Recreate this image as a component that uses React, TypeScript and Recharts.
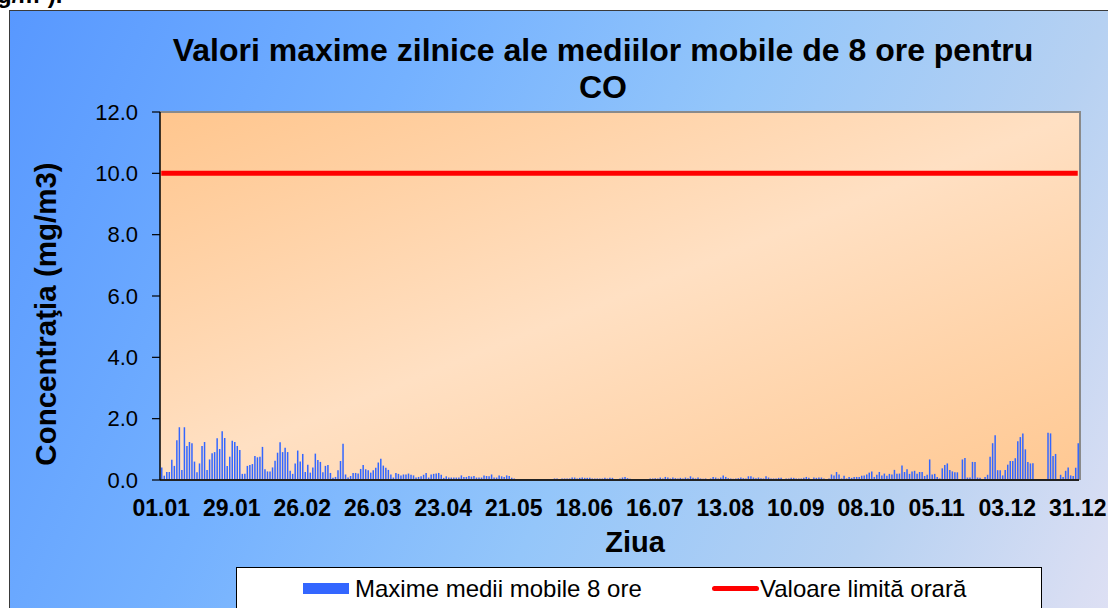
import React from 'react';
import { ComposedChart, Bar, Line, XAxis, YAxis } from 'recharts';

const FONT = "Arial, 'Liberation Sans', Helvetica, sans-serif";

// categories: days of a non-leap year, "dd.mm"
const monthLengths = [31, 28, 31, 30, 31, 30, 31, 31, 30, 31, 30, 31];
const pad = (n: number) => (n < 10 ? '0' + n : '' + n);
const dayLabels: string[] = [];
monthLengths.forEach((len, m) => {
  for (let d = 1; d <= len; d++) dayLabels.push(`${pad(d)}.${pad(m + 1)}`);
});

const tickLabels = ['01.01', '29.01', '26.02', '26.03', '23.04', '21.05', '18.06', '16.07', '13.08', '10.09', '08.10', '05.11', '03.12', '31.12'];
const yTicks = [0, 2, 4, 6, 8, 10, 12];

// Maxime medii mobile 8 ore (mg/m3), one value per day
const maxMovingAvg8h: (number | null)[] = [
  0.41, 0.14, 0.26, 0.26, 0.66, 0.46, 1.30, 1.72, 0.33, 1.72,
  1.11, 1.24, 1.20, 0.60, 0.25, 0.54, 1.11, 1.24, 0.33, 0.67,
  0.87, 0.91, 1.36, 1.01, 1.59, 1.37, 0.46, 0.76, 1.28, 1.24,
  1.11, 0.98, 0.20, 0.20, 0.46, 0.49, 0.52, 0.78, 0.74, 0.76,
  1.08, 0.35, 0.28, 0.28, 0.41, 0.63, 0.89, 1.23, 0.91, 1.05,
  0.91, 0.30, 0.20, 0.54, 0.96, 0.60, 0.85, 0.26, 0.50, 0.24,
  0.41, 0.86, 0.65, 0.59, 0.25, 0.46, 0.49, 0.23, 0.07, 0.10,
  0.32, 0.62, 1.18, 0.18, 0.08, 0.13, 0.23, 0.23, 0.21, 0.36,
  0.49, 0.35, 0.32, 0.24, 0.32, 0.40, 0.57, 0.69, 0.47, 0.40,
  0.33, 0.18, 0.08, 0.23, 0.20, 0.15, 0.18, 0.18, 0.21, 0.17,
  0.15, 0.08, 0.10, 0.12, 0.17, 0.23, 0.08, 0.18, 0.20, 0.21,
  0.23, 0.17, 0.07, 0.12, 0.08, 0.08, 0.08, 0.08, 0.08, 0.15,
  0.10, 0.10, 0.13, 0.11, 0.13, 0.08, 0.08, 0.08, 0.15, 0.13,
  0.12, 0.18, 0.08, 0.08, 0.15, 0.12, 0.10, 0.15, 0.13, 0.07,
  0.05, null, null, null, null, null, null, null, null, null,
  null, null, null, null, null, null, 0.05, 0.05, 0.03, 0.05,
  0.05, 0.05, 0.05, 0.08, 0.08, 0.05, 0.07, 0.08, 0.07, 0.07,
  0.07, 0.05, 0.05, 0.05, 0.05, 0.05, 0.07, 0.05, 0.07, 0.07,
  0.03, 0.03, 0.05, 0.08, 0.10, 0.06, 0.04, 0.02, 0.02, 0.02,
  0.03, 0.02, 0.02, 0.03, 0.05, 0.05, 0.06, 0.05, 0.08, 0.05,
  0.10, 0.08, 0.05, 0.08, 0.06, 0.05, 0.07, 0.05, 0.08, 0.06,
  0.12, 0.07, 0.05, 0.08, 0.05, 0.04, 0.05, 0.03, 0.05, 0.10,
  0.08, 0.05, 0.08, 0.15, 0.10, 0.06, 0.05, 0.04, 0.05, 0.06,
  0.08, 0.06, 0.05, 0.12, 0.12, 0.08, 0.06, 0.08, 0.06, 0.05,
  0.12, 0.08, 0.05, 0.05, 0.05, 0.07, 0.07, 0.03, 0.05, 0.05,
  0.07, 0.07, 0.05, 0.05, 0.05, 0.07, 0.10, 0.07, 0.03, 0.08,
  0.07, 0.08, 0.08, 0.05, 0.03, 0.05, 0.18, 0.15, 0.26, 0.18,
  0.05, 0.14, 0.05, 0.10, 0.07, 0.10, 0.10, 0.10, 0.14, 0.15,
  0.18, 0.24, 0.28, 0.10, 0.17, 0.26, 0.15, 0.21, 0.14, 0.20,
  0.18, 0.33, 0.20, 0.21, 0.47, 0.26, 0.35, 0.20, 0.28, 0.30,
  0.20, 0.26, 0.26, 0.13, 0.17, 0.67, 0.18, 0.20, 0.10, 0.05,
  0.38, 0.49, 0.54, 0.33, 0.28, 0.25, 0.25, 0.03, 0.67, 0.72,
  0.08, 0.08, 0.59, 0.59, 0.08, 0.07, 0.03, 0.10, 0.17, 0.76,
  1.20, 1.46, 0.32, 0.32, 0.15, 0.33, 0.50, 0.62, 0.62, 0.71,
  1.26, 1.40, 1.52, 1.00, 0.59, 0.54, 0.55, null, null, null,
  null, null, 1.54, 1.52, 0.78, 0.85, 0.02, 0.17, 0.10, 0.30,
  0.41, 0.15, 0.13, 0.40, 1.20,
];

// Valoare limită orară (mg/m3)
const limitValues: number[] = dayLabels.map(() => 10);

const data = dayLabels.map((day, i) => ({
  day,
  co: maxMovingAvg8h[i] ?? null,
  limit: limitValues[i],
}));

export default function App() {
  return (
    <div
      style={{
        position: 'absolute',
        left: 0,
        top: 0,
        width: 1108,
        height: 608,
        overflow: 'hidden',
        background: '#ffffff',
        fontFamily: FONT,
        color: '#000',
      }}
    >
      <div
        style={{
          position: 'absolute',
          left: -3,
          top: -17,
          fontSize: 24,
          lineHeight: '24px',
          fontWeight: 'bold',
          whiteSpace: 'nowrap',
        }}
      >
        g/m³).
      </div>

      {/* chart area panel */}
      <div
        style={{
          position: 'absolute',
          left: 9,
          top: 10,
          width: 1200,
          height: 700,
          border: '1.5px solid #3a3a3a',
          background:
            'linear-gradient(115deg, #5898ff 0%, #74b1ff 28%, #94c6fa 50%, #b6d1f2 72%, #d9def3 88%, #efe7f7 100%)',
        }}
      />

      {/* plot area background */}
      <div
        style={{
          position: 'absolute',
          left: 160,
          top: 111,
          width: 921,
          height: 369,
          boxSizing: 'border-box',
          borderTop: '2px solid #8a8a8a',
          borderRight: '2px solid #8a8a8a',
          background: 'linear-gradient(to bottom right, #ffc68e 0%, #ffe0c3 50%, #ffc892 100%)',
        }}
      />

      {/* title */}
      <div
        style={{
          position: 'absolute',
          left: 0,
          top: 32,
          width: 1206,
          textAlign: 'center',
          fontSize: 32,
          lineHeight: '37px',
          fontWeight: 'bold',
        }}
      >
        Valori maxime zilnice ale mediilor mobile de 8 ore pentru
        <br />
        CO
      </div>

      <ComposedChart
        width={1108}
        height={608}
        data={data}
        margin={{ top: 112, right: 29, left: 100, bottom: 88 }}
        style={{ position: 'absolute', left: 0, top: 0 }}
      >
        <XAxis
          dataKey="day"
          ticks={tickLabels}
          interval={0}
          tickLine={false}
          tickSize={6}
          tickMargin={14}
          height={40}
          axisLine={{ stroke: '#222', strokeWidth: 2.2 }}
          tick={{ fontSize: 23, fontWeight: 'bold', fill: '#000', fontFamily: FONT }}
        />
        <YAxis
          domain={[0, 12]}
          ticks={yTicks}
          tickFormatter={(v: number) => v.toFixed(1)}
          width={60}
          tickSize={8}
          tickMargin={14}
          axisLine={{ stroke: '#000', strokeWidth: 1.5 }}
          tickLine={{ stroke: '#000', strokeWidth: 1.2 }}
          tick={{ fontSize: 22, fill: '#000', fontFamily: FONT }}
        />
        <Bar dataKey="co" fill="#3366ff" barSize={1.5} isAnimationActive={false} />
        <Line
          dataKey="limit"
          stroke="#ff0000"
          strokeWidth={5}
          dot={false}
          activeDot={false}
          isAnimationActive={false}
        />
      </ComposedChart>

      {/* y axis title */}
      <div
        style={{
          position: 'absolute',
          left: 45,
          top: 314,
          transform: 'translate(-50%, -50%) rotate(-90deg)',
          fontSize: 29.5,
          lineHeight: '29px',
          fontWeight: 'bold',
          whiteSpace: 'nowrap',
        }}
      >
        Concentraţia (mg/m3)
      </div>

      {/* x axis title */}
      <div
        style={{
          position: 'absolute',
          left: 535,
          top: 528,
          width: 200,
          textAlign: 'center',
          fontSize: 29,
          lineHeight: '29px',
          fontWeight: 'bold',
        }}
      >
        Ziua
      </div>

      {/* legend */}
      <div
        style={{
          position: 'absolute',
          left: 236,
          top: 567,
          width: 806,
          height: 60,
          boxSizing: 'border-box',
          background: '#ffffff',
          border: '1px solid #000',
          fontSize: 24,
          lineHeight: '24px',
        }}
      >
        <div style={{ position: 'absolute', left: 66, top: 15, width: 46, height: 11, background: '#3366ff' }} />
        <div style={{ position: 'absolute', left: 118, top: 9, whiteSpace: 'nowrap' }}>Maxime medii mobile 8 ore</div>
        <div
          style={{ position: 'absolute', left: 475, top: 18, width: 47, height: 5, borderRadius: 3, background: '#ff0000' }}
        />
        <div style={{ position: 'absolute', left: 523, top: 9, whiteSpace: 'nowrap' }}>Valoare limită orară</div>
      </div>
    </div>
  );
}
